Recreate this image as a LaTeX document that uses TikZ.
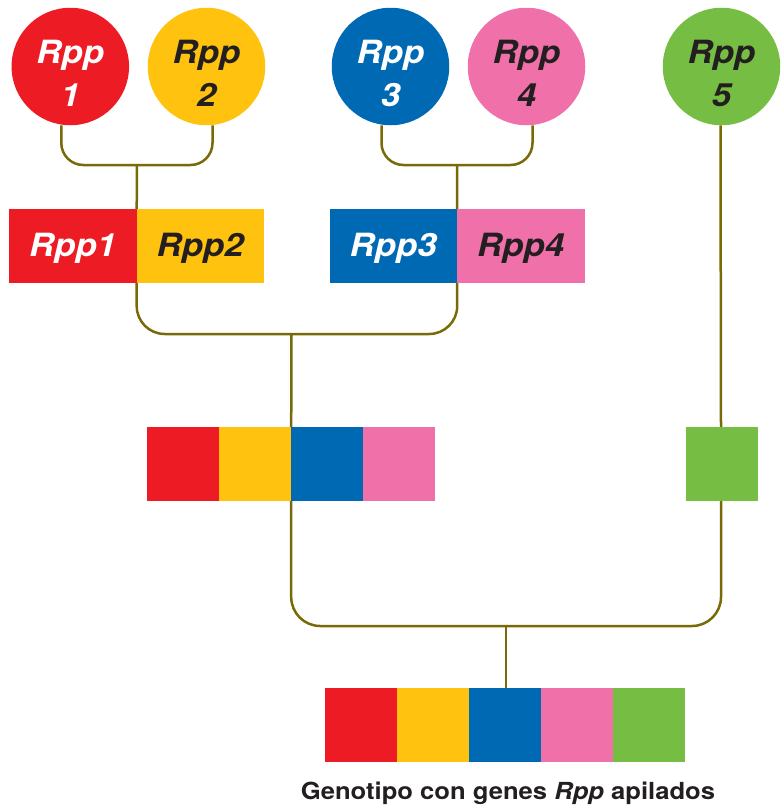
\documentclass[tikz,border=0pt]{standalone}
\usepackage{fontspec}
\setmainfont{TeX Gyre Heros}
\newfontfamily\widefont[FakeStretch=1.09]{TeX Gyre Heros}
\usetikzlibrary{positioning}

\definecolor{rppred}{HTML}{ED1C24}
\definecolor{rppyellow}{HTML}{FFC20E}
\definecolor{rppblue}{HTML}{0069B4}
\definecolor{rpppink}{HTML}{F070AA}
\definecolor{rppgreen}{HTML}{76BE43}
\definecolor{rppline}{RGB}{120,106,6}
\definecolor{rppdark}{HTML}{231F20}

\begin{document}
\begin{tikzpicture}[x=1pt, y=-1pt,
    % --- Gene styles ---
    gene/.style={circle, fill=#1, minimum size=117.5pt, inner sep=0pt, align=center,
                 text=rppdark, font=\widefont\fontsize{32}{43}\selectfont\bfseries\itshape,
                 text height=80pt, text depth=0pt},
    % --- Block styles ---
    block/.style={rectangle, fill=#1, minimum width=127.5pt, minimum height=74pt,
                  inner sep=0pt, text=rppdark, font=\widefont\fontsize{32}{38}\selectfont\bfseries\itshape,
                  text height=23pt, text depth=3pt},
    cell/.style={rectangle, fill=#1, minimum width=72pt, minimum height=73.7pt, inner sep=0pt},
    % --- Crossing lines ---
    link/.style={draw=rppline, line width=2.5pt},
]
\useasboundingbox (0,0) rectangle (781,806);

% ============================================================
% Parents: single genes
% ============================================================
\node[gene=rppred, text=white] (c1) at ( 70.3, 66.5) {Rpp\\1};
\node[gene=rppyellow]          (c2) at (206.5, 66.5) {Rpp\\2};
\node[gene=rppblue, text=white](c3) at (390.5, 66.5) {Rpp\\3};
\node[gene=rpppink]            (c4) at (526.5, 66.5) {Rpp\\4};
\node[gene=rppgreen]           (c5) at (721.5, 66.5) {Rpp\\5};

% ============================================================
% First cross: two genes each
% ============================================================
\node[block=rppred, text=white]  (b1) at ( 72.75, 246) {Rpp1};
\node[block=rppyellow]           (b2) at (200.25, 246) {Rpp2};
\node[block=rppblue, text=white] (b3) at (393.25, 246) {Rpp3};
\node[block=rpppink]             (b4) at (520.75, 246) {Rpp4};

\coordinate (j1) at (137, 165);
\coordinate (j2) at (457, 165);
\draw[link, rounded corners=22] ([xshift=-9]c1.south) |- (j1) -| ([xshift=6]c2.south);
\draw[link] (j1) -- (b1.north east);
\draw[link, rounded corners=22] ([xshift=-9]c3.south) |- (j2) -| ([xshift=6]c4.south);
\draw[link] (j2) -- (b3.north east);

% ============================================================
% Second cross: four genes
% ============================================================
\node[cell=rppred]    (m1) at (183, 464) {};
\node[cell=rppyellow] (m2) at (255, 464) {};
\node[cell=rppblue]   (m3) at (327, 464) {};
\node[cell=rpppink]   (m4) at (399, 464) {};
\node[cell=rppgreen]  (m5) at (722, 464) {};

\coordinate (j3) at (291.5, 334);
\draw[link, rounded corners=28] (b1.south east) |- (j3) -| (b3.south east);
\draw[link] (j3) -- (m2.north east);
\draw[link] ([xshift=-1]c5.south) -- ([xshift=-1]m5.north);

% ============================================================
% Final cross: stacked genes
% ============================================================
\node[cell=rppred]    (f1) at (361, 725) {};
\node[cell=rppyellow] (f2) at (433, 725) {};
\node[cell=rppblue]   (f3) at (505, 725) {};
\node[cell=rpppink]   (f4) at (577, 725) {};
\node[cell=rppgreen]  (f5) at (649, 725) {};

\coordinate (j4) at (506, 626);
\draw[link, rounded corners=29] (m2.south east) |- (j4) -| ([xshift=-1]m5.south);
\draw[link] (j4) -- (j4 |- f3.north);

\node[font=\widefont\fontsize{23.5}{28}\selectfont\bfseries, text=rppdark, anchor=base]
  (caption) at (508, 799) {Genotipo con genes \textit{Rpp} apilados};

\end{tikzpicture}
\end{document}
